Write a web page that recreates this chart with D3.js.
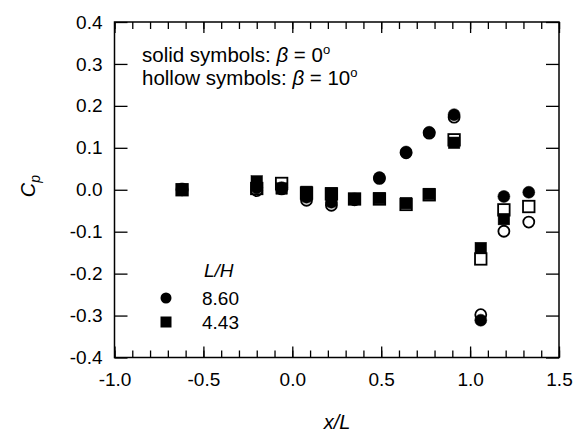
<!DOCTYPE html>
<html><head><meta charset="utf-8">
<script src="https://cdn.jsdelivr.net/npm/d3@7"></script>
<style>body{margin:0;background:#fff}svg{display:block}</style>
</head><body><svg id="c" width="581" height="433"></svg>
<script>
// x/L stations
const xPos = [-0.62, -0.20, -0.06, 0.08, 0.22, 0.35, 0.49, 0.64, 0.77, 0.91, 1.06, 1.19, 1.33];
// L/H = 8.60 (circles)
const cpCircleSolid  = [0.002, 0.005, 0.005, -0.018, -0.030, -0.022, 0.029, 0.090, 0.137, 0.179, -0.311, -0.016, -0.006];
const cpCircleHollow = [0.000, -0.002, 0.002, -0.025, -0.037, -0.024, 0.027, 0.088, 0.135, 0.173, -0.298, -0.099, -0.077];
// L/H = 4.43 (squares)
const cpSquareSolid  = [0.000, 0.020, 0.003, -0.005, -0.008, -0.022, -0.020, -0.032, -0.010, 0.112, -0.139, -0.070, null];
const cpSquareHollow = [0.000, 0.003, 0.015, -0.008, -0.010, -0.022, -0.022, -0.035, -0.012, 0.119, -0.165, -0.048, -0.040];

const xTicks = [-1.0, -0.5, 0.0, 0.5, 1.0, 1.5];
const xMinorTicks = d3.range(-10, 16).map(d => d / 10);
const yTicks = [-0.4, -0.3, -0.2, -0.1, 0.0, 0.1, 0.2, 0.3, 0.4];
const legendLabels = ["8.60", "4.43"];

const FONT = "Liberation Sans, Arial, Helvetica, sans-serif";
const svg = d3.select("#c").style("font-family", FONT);

const x = d3.scaleLinear().domain([-1, 1.5]).range([114.5, 559]);
const y = d3.scaleLinear().domain([-0.4, 0.4]).range([357.5, 22]);
const fmt = d => d3.format(".1f")(d).replace("\u2212", "-");

function styleAxis(g, showLabels, size) {
  g.select(".domain").remove();
  g.selectAll(".tick line").attr("stroke", "#000").attr("stroke-width", 1.3);
  if (!showLabels) g.selectAll(".tick text").remove();
  else g.selectAll(".tick text").attr("fill", "#000").style("font-size", size + "px").style("font-family", FONT);
}

// bottom axis
svg.append("g").attr("transform", `translate(0,${y(-0.4)})`)
  .call(d3.axisBottom(x).tickValues(xMinorTicks).tickSizeInner(-7).tickSizeOuter(0).tickFormat(""))
  .call(g => styleAxis(g, false));
svg.append("g").attr("transform", `translate(0,${y(-0.4)})`)
  .call(d3.axisBottom(x).tickValues(xTicks).tickSizeInner(-11).tickSizeOuter(0).tickPadding(15).tickFormat(fmt))
  .call(g => styleAxis(g, true, 19));
// top axis
svg.append("g").attr("transform", `translate(0,${y(0.4)})`)
  .call(d3.axisTop(x).tickValues(xMinorTicks).tickSizeInner(-7).tickSizeOuter(0).tickFormat(""))
  .call(g => styleAxis(g, false));
svg.append("g").attr("transform", `translate(0,${y(0.4)})`)
  .call(d3.axisTop(x).tickValues(xTicks).tickSizeInner(-11).tickSizeOuter(0).tickFormat(""))
  .call(g => styleAxis(g, false));
// left axis
svg.append("g").attr("transform", `translate(${x(-1)},0)`)
  .call(d3.axisLeft(y).tickValues(yTicks).tickSizeInner(-13).tickSizeOuter(0).tickPadding(12).tickFormat(fmt))
  .call(g => styleAxis(g, true, 19));
// right axis
svg.append("g").attr("transform", `translate(${x(1.5)},0)`)
  .call(d3.axisRight(y).tickValues(yTicks).tickSizeInner(-13).tickSizeOuter(0).tickFormat(""))
  .call(g => styleAxis(g, false));

// frame
svg.append("rect").attr("x", x(-1)).attr("y", y(0.4))
  .attr("width", x(1.5) - x(-1)).attr("height", y(-0.4) - y(0.4))
  .attr("fill", "none").attr("stroke", "#000").attr("stroke-width", 1.5);

// data
const R = 6, S = 11.5;
function pts(arr) { return xPos.map((v, i) => ({ x: v, c: arr[i] })).filter(d => d.c !== null); }
const plot = svg.append("g");
function squares(arr, solid) {
  plot.selectAll(null).data(pts(arr)).enter().append("rect")
    .attr("x", d => x(d.x) - S / 2).attr("y", d => y(d.c) - S / 2)
    .attr("width", S).attr("height", S)
    .attr("fill", solid ? "#000" : "none").attr("stroke", "#000").attr("stroke-width", solid ? 0.5 : 1.8);
}
function circles(arr, solid) {
  plot.selectAll(null).data(pts(arr)).enter().append("circle")
    .attr("cx", d => x(d.x)).attr("cy", d => y(d.c)).attr("r", solid ? R : R - 0.5)
    .attr("fill", solid ? "#000" : "none").attr("stroke", "#000").attr("stroke-width", solid ? 0.5 : 1.8);
}
squares(cpSquareHollow, false);
circles(cpCircleHollow, false);
squares(cpSquareSolid, true);
circles(cpCircleSolid, true);

// annotation
const ann = svg.append("g").style("font-size", "20.5px").attr("fill", "#000");
const t1 = ann.append("text").attr("x", 142).attr("y", 62);
t1.append("tspan").text("solid symbols: ");
t1.append("tspan").style("font-style", "italic").text("β");
t1.append("tspan").text(" = 0");
t1.append("tspan").attr("dy", -8).style("font-size", "13px").text("o");
const t2 = ann.append("text").attr("x", 142).attr("y", 85);
t2.append("tspan").text("hollow symbols: ");
t2.append("tspan").style("font-style", "italic").text("β");
t2.append("tspan").text(" = 10");
t2.append("tspan").attr("dy", -8).style("font-size", "13px").text("o");

// legend
const leg = svg.append("g").style("font-size", "19px").attr("fill", "#000");
leg.append("text").attr("x", 204).attr("y", 277).style("font-style", "italic").text("L/H");
const legY = [298, 322];
legendLabels.forEach((lab, i) => {
  leg.append("text").attr("x", 202).attr("y", legY[i] + 7).text(lab);
});
leg.append("circle").attr("cx", 166).attr("cy", legY[0]).attr("r", 5.5).attr("fill", "#000");
leg.append("rect").attr("x", 166 - 5.5).attr("y", legY[1] - 5.5).attr("width", 11).attr("height", 11).attr("fill", "#000");

// axis titles
const yt = svg.append("text").attr("transform", "translate(35,186) rotate(-90)")
  .attr("text-anchor", "middle").style("font-size", "20px").style("font-style", "italic");
yt.append("tspan").text("C");
yt.append("tspan").attr("dy", 5).style("font-size", "14px").text("p");
svg.append("text").attr("x", 337).attr("y", 429).attr("text-anchor", "middle")
  .style("font-size", "20px").style("font-style", "italic").text("x/L");
</script>
</body></html>
